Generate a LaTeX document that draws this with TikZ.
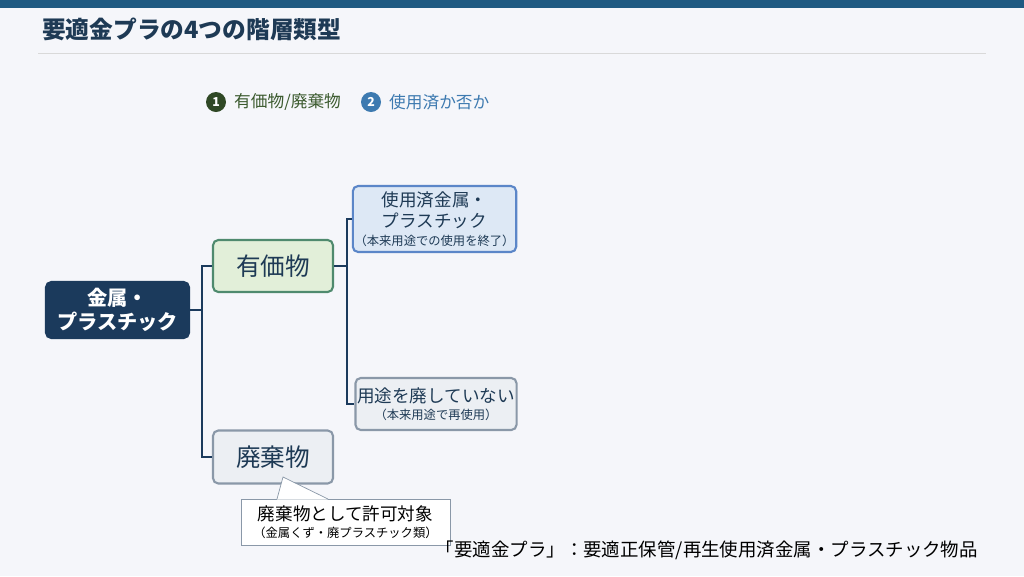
\documentclass[tikz,border=0pt]{standalone}
\usepackage{fontspec}
\setmainfont{Noto Sans CJK JP}
\usetikzlibrary{positioning}
\definecolor{navy}{HTML}{1B3A5C}
\definecolor{barblue}{HTML}{1F5A82}
\definecolor{bgcol}{HTML}{F5F6FA}
\definecolor{leafgreen}{HTML}{E2EFD9}
\definecolor{edgegreen}{HTML}{4F8A6E}
\definecolor{leafblue}{HTML}{DDE8F5}
\definecolor{edgeblue}{HTML}{5B86C8}
\definecolor{leafgray}{HTML}{ECEFF3}
\definecolor{edgegray}{HTML}{8A98A8}
\definecolor{txtdark}{HTML}{1E3A55}
\definecolor{txtgreen}{HTML}{3B5A2E}
\definecolor{txtblue}{HTML}{3D7AB0}
\newcommand{\subnote}[1]{{\fontsize{7}{8}\selectfont #1}}
\tikzset{
box/.style={rectangle, rounded corners=3pt, line width=1.2pt, align=center, text=txtdark, inner sep=1pt},
link/.style={draw=navy, line width=1.6pt},
badge/.style={circle, minimum size=0.4cm, inner sep=0pt, text=white, font=\bfseries\scriptsize}
}
\begin{document}
\begin{tikzpicture}[x=0.02cm, y=-0.02cm]
\fill[bgcol] (0,0) rectangle (1024,576);
\fill[barblue] (0,0) rectangle (1024,8);
\node[anchor=west, text=txtdark, font=\fontsize{13.5}{16}\selectfont\bfseries] (title) at (36,29) {要適金プラの4つの階層類型};
\draw[black!15] (38,53) -- (986,53);

% legend
\node[badge, fill=txtgreen!80!black] (b1) at (216,102) {1};
\node[anchor=west, text=txtgreen, font=\fontsize{9.5}{11}\selectfont] (l1) at (228,102) {有価物/廃棄物};
\node[badge, fill=txtblue] (b2) at (371,102) {2};
\node[anchor=west, text=txtblue, font=\fontsize{9.5}{11}\selectfont] (l2) at (383,102) {使用済か否か};

% tree
\node[box, fill=navy, draw=navy, text=white, minimum width=2.86cm, minimum height=1.12cm, font=\fontsize{11.5}{14}\selectfont\bfseries] (root) at (117.5,310) {金属・\\プラスチック};
\node[box, fill=leafgreen, draw=edgegreen, minimum width=2.4cm, minimum height=1.04cm, font=\fontsize{14}{16}\selectfont] (valu) at (273,266) {有価物};
\node[box, fill=leafgray, draw=edgegray, minimum width=2.4cm, minimum height=1.06cm, font=\fontsize{14}{16}\selectfont] (wast) at (273,457) {廃棄物};
\node[box, fill=leafblue, draw=edgeblue, minimum width=3.06cm, minimum height=1.32cm, font=\fontsize{10}{12}\selectfont] (used) at (434.5,219) {使用済金属・\\プラスチック\\[-2pt]\subnote{（本来用途での使用を終了）}};
\node[box, fill=leafgray, draw=edgegray, minimum width=3.12cm, minimum height=1.04cm, font=\fontsize{10}{12}\selectfont] (reus) at (436,404) {用途を廃していない\\[-2pt]\subnote{（本来用途で再使用）}};

\draw[link] (root.east) -- ++(12,0) |- (valu.west);
\draw[link] (root.east) -- ++(12,0) |- (wast.west);
\draw[link] (valu.east) -- ++(13,0) |- (used.west);
\draw[link] (valu.east) -- ++(13,0) |- (reus.west);

% callout
\node[draw=edgegray, fill=white, minimum width=4.18cm, minimum height=0.92cm, align=center, text=black, inner sep=1pt, font=\fontsize{10}{12}\selectfont] (note) at (345.5,522) {廃棄物として許可対象\\[-2pt]\subnote{（金属くず・廃プラスチック類）}};
\coordinate (tip) at (283,477);
\fill[white] (277,499.6) -- (tip) -- (328,499.6) -- cycle;
\draw[edgegray] (277,499) -- (tip) -- (328,499);

\node[anchor=east, text=black, font=\fontsize{10.5}{12}\selectfont] (foot) at (984,550) {「要適金プラ」：要適正保管/再生使用済金属・プラスチック物品};
\end{tikzpicture}
\end{document}
